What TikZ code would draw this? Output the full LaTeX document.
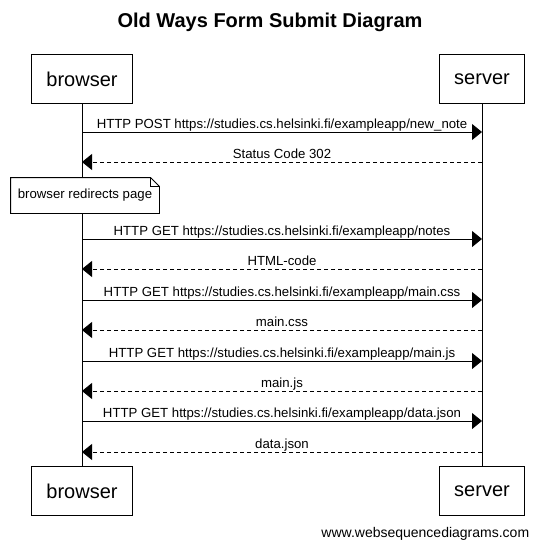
\documentclass[tikz,border=0pt]{standalone}
\usepackage{fontspec}
\setmainfont{Liberation Sans}
\usetikzlibrary{arrows.meta,positioning}

\tikzset{
  actor/.style = {draw, fill=white, inner xsep=15pt, minimum height=49pt,
                  font=\fontsize{20}{24}\selectfont},
  lbl/.style   = {midway, anchor=base, yshift=4pt, inner sep=0pt,
                  font=\fontsize{13.2}{15}\selectfont},
  req/.style   = {-{Triangle[length=10pt,width=16pt]}},
  rsp/.style   = {req, dash pattern=on 4pt off 3pt},
}

\begin{document}
\begin{tikzpicture}[x=1pt, y=-1pt, line width=0.9pt]
    \useasboundingbox (0,0) rectangle (540,549);

    \node [font=\bfseries\fontsize{20}{24}\selectfont] (title) at (270,22)
        {Old Ways Form Submit Diagram};

    % participants, top and bottom
    \node [actor] (browsertop) at (82,79) {browser};
    \node [actor] (servertop) at (482,79) {server};
    \node [actor] (browserbot) at (82,491) {browser};
    \node [actor] (serverbot) at (482,491) {server};

    \draw (browsertop) -- (browserbot);
    \draw (servertop) -- (serverbot);

    % message rows on the lifelines
    \foreach \y [count=\i] in {132,162,239,269,300,330,361,391,421,452} {
        \coordinate (b\i) at (82,\y);
        \coordinate (s\i) at (482,\y);
    }

    \draw [req] (b1) -- node [lbl] {HTTP POST https://studies.cs.helsinki.fi/exampleapp/new\_note} (s1);
    \draw [rsp] (s2) -- node [lbl] {Status Code 302} (b2);

    % note with folded corner
    \node [minimum width=148pt, minimum height=35pt, inner sep=0pt] (redirect) at (85,195.5) {};
    \draw [fill=white] (redirect.north west) -- ([xshift=-9pt]redirect.north east)
        -- ([yshift=-9pt]redirect.north east) -- (redirect.south east)
        -- (redirect.south west) -- cycle;
    \draw ([xshift=-9pt]redirect.north east) |- ([yshift=-9pt]redirect.north east);
    \node [font=\fontsize{13.2}{15}\selectfont] (redirecttext) at (redirect) {browser redirects page};

    \draw [req] (b3) -- node [lbl] {HTTP GET https://studies.cs.helsinki.fi/exampleapp/notes} (s3);
    \draw [rsp] (s4) -- node [lbl] {HTML-code} (b4);
    \draw [req] (b5) -- node [lbl] {HTTP GET https://studies.cs.helsinki.fi/exampleapp/main.css} (s5);
    \draw [rsp] (s6) -- node [lbl] {main.css} (b6);
    \draw [req] (b7) -- node [lbl] {HTTP GET https://studies.cs.helsinki.fi/exampleapp/main.js} (s7);
    \draw [rsp] (s8) -- node [lbl] {main.js} (b8);
    \draw [req] (b9) -- node [lbl] {HTTP GET https://studies.cs.helsinki.fi/exampleapp/data.json} (s9);
    \draw [rsp] (s10) -- node [lbl] {data.json} (b10);

    \node [anchor=east, font=\fontsize{14}{16}\selectfont] (credit) at (533,534)
        {www.websequencediagrams.com};
\end{tikzpicture}
\end{document}
